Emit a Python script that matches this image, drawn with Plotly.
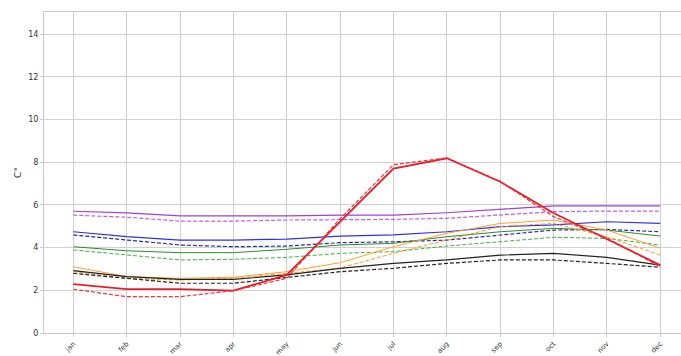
import plotly.graph_objects as go

months = ["jan", "feb", "mar", "apr", "may", "jun", "jul", "aug", "sep", "oct", "nov", "dec"]

purple_solid = [5.70, 5.62, 5.48, 5.48, 5.48, 5.52, 5.52, 5.63, 5.79, 5.95, 5.95, 5.95]
purple_dash = [5.52, 5.42, 5.24, 5.24, 5.29, 5.29, 5.32, 5.37, 5.52, 5.68, 5.71, 5.71]
blue_solid = [4.74, 4.51, 4.35, 4.35, 4.40, 4.54, 4.59, 4.74, 4.98, 5.06, 5.21, 5.13]
blue_dash = [4.59, 4.35, 4.12, 4.04, 4.07, 4.23, 4.27, 4.35, 4.59, 4.82, 4.85, 4.74]
green_solid = [4.04, 3.85, 3.76, 3.76, 3.92, 4.12, 4.20, 4.51, 4.74, 4.90, 4.82, 4.54]
green_dash = [3.89, 3.65, 3.42, 3.45, 3.54, 3.73, 3.81, 4.07, 4.27, 4.48, 4.43, 4.12]
orange_solid = [3.10, 2.64, 2.56, 2.61, 2.87, 3.29, 4.04, 4.67, 5.13, 5.29, 4.82, 3.98]
orange_dash = [2.87, 2.56, 2.48, 2.57, 2.79, 3.04, 3.73, 4.35, 4.98, 5.13, 4.51, 3.65]
black_solid = [2.92, 2.64, 2.51, 2.51, 2.72, 3.03, 3.26, 3.42, 3.65, 3.73, 3.54, 3.18]
black_dash = [2.79, 2.56, 2.33, 2.33, 2.61, 2.87, 3.03, 3.26, 3.42, 3.42, 3.26, 3.08]
red_solid = [2.29, 2.05, 2.05, 1.98, 2.72, 5.20, 7.70, 8.18, 7.08, 5.62, 4.40, 3.18]
red_dash = [2.05, 1.70, 1.70, 1.98, 2.56, 5.35, 7.88, 8.20, 7.10, 5.45, 4.45, 3.10]

DASH = "4px,2px"
series = [
    (purple_solid, "#a040d0", "solid", 1.2),
    (purple_dash, "#c060e0", DASH, 1.2),
    (blue_solid, "#3030e0", "solid", 1.2),
    (blue_dash, "#303090", DASH, 1.2),
    (green_solid, "#2e8b2e", "solid", 1.0),
    (green_dash, "#40b040", DASH, 1.0),
    (orange_solid, "#ffa030", "solid", 1.0),
    (orange_dash, "#ff9a20", DASH, 1.0),
    (black_solid, "#222222", "solid", 1.2),
    (black_dash, "#222222", DASH, 1.2),
    (red_solid, "#e0202a", "solid", 1.8),
    (red_dash, "#f03040", DASH, 1.2),
]

fig = go.Figure()
for vals, color, dash, w in series:
    fig.add_trace(go.Scatter(
        x=list(range(len(months))), y=vals, mode="lines",
        line=dict(color=color, dash=dash, width=w), showlegend=False,
    ))

fig.update_layout(
    width=681, height=356,
    margin=dict(l=44, r=0, t=12, b=23),
    plot_bgcolor="white", paper_bgcolor="white",
    font=dict(family="DejaVu Sans", size=8, color="#333333"),
)
fig.update_xaxes(
    tickmode="array", tickvals=list(range(len(months))), ticktext=months,
    tickangle=-45, range=[-0.55, 11.39],
    showgrid=True, gridcolor="#d0d0d0", gridwidth=1,
    showline=True, linecolor="#c8c8c8", linewidth=1, mirror=True,
    ticks="outside", ticklen=3, tickcolor="#c8c8c8",
    zeroline=False, tickfont=dict(size=7),
)
fig.update_yaxes(
    range=[0, 15.03], tickvals=[0, 2, 4, 6, 8, 10, 12, 14],
    showgrid=True, gridcolor="#d0d0d0", gridwidth=1,
    showline=True, linecolor="#c8c8c8", linewidth=1,
    ticks="outside", ticklen=3, tickcolor="#c8c8c8",
    zeroline=False, tickfont=dict(size=8),
    title=dict(text="C°", font=dict(size=9, color="#333333"), standoff=5),
)

fig.write_html("out.html")
